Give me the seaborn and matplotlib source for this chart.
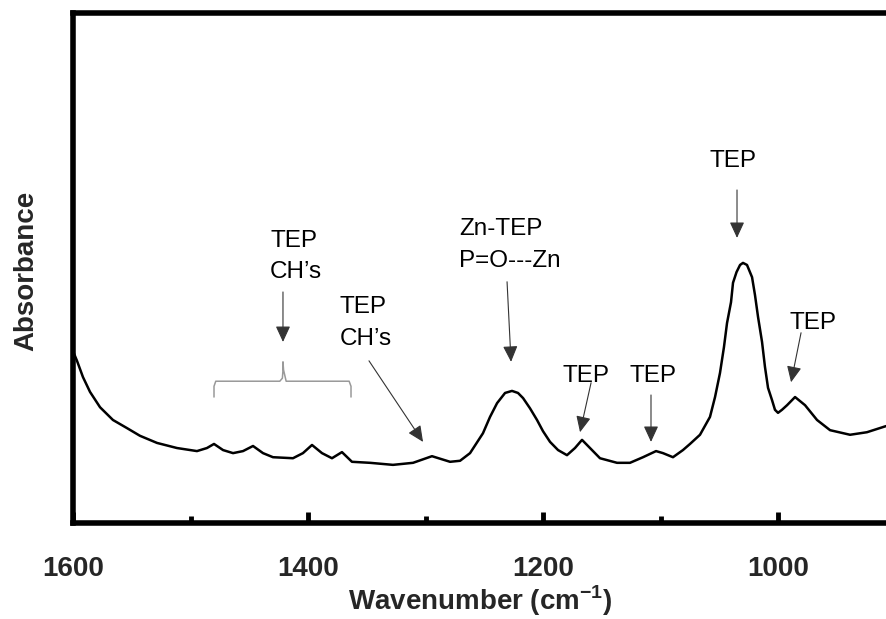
import numpy as np
import pandas as pd
import matplotlib
matplotlib.use("Agg")
import matplotlib.pyplot as plt
import seaborn as sns

# ---- data ----
wavenumber = [1600.0, 1596.6, 1591.5, 1585.5, 1577.0, 1566.0, 1554.0, 1543.0, 1528.5, 1511.5,
              1494.5, 1486.0, 1480.0, 1472.3, 1463.8, 1455.3, 1446.8, 1438.3, 1429.8, 1412.8,
              1404.3, 1396.6, 1388.1, 1379.6, 1371.1, 1362.6, 1347.2, 1327.7, 1310.6, 1294.5,
              1279.1, 1270.6, 1262.1, 1251.1, 1245.1, 1239.1, 1232.3, 1226.4, 1221.3, 1217.0,
              1211.1, 1205.1, 1200.0, 1194.0, 1187.2, 1179.6,
              1172.8, 1166.8, 1160.0, 1151.5, 1137.0, 1126.0, 1114.9, 1103.8, 1097.9, 1089.4,
              1080.9, 1074.9, 1066.4, 1057.9, 1053.6, 1049.4, 1046.0, 1043.4, 1040.0, 1038.3,
              1035.3, 1032.3, 1029.8, 1026.4, 1022.1, 1019.6, 1017.0, 1013.6, 1011.1, 1008.5,
              1005.1, 1002.6, 1000.0, 996.6, 992.3, 985.5, 977.0, 966.8, 955.7,
              938.7, 924.3, 908.1]
absorbance = [0.337, 0.318, 0.286, 0.257, 0.227, 0.202, 0.186, 0.171, 0.157, 0.147,
              0.141, 0.147, 0.155, 0.143, 0.137, 0.141, 0.151, 0.137, 0.129, 0.127,
              0.137, 0.153, 0.137, 0.127, 0.139, 0.120, 0.118, 0.114, 0.118, 0.131,
              0.120, 0.122, 0.137, 0.176, 0.208, 0.235, 0.255, 0.259, 0.255, 0.245,
              0.225, 0.202, 0.180, 0.159, 0.143, 0.133,
              0.147, 0.163, 0.147, 0.127, 0.118, 0.118, 0.129, 0.141, 0.137, 0.129,
              0.143, 0.155, 0.173, 0.208, 0.247, 0.294, 0.345, 0.392, 0.433, 0.471,
              0.492, 0.506, 0.510, 0.506, 0.482, 0.447, 0.404, 0.355, 0.306, 0.265,
              0.241, 0.222, 0.216, 0.222, 0.231, 0.247, 0.231, 0.202, 0.182,
              0.173, 0.178, 0.190]

x_ticks = [1600, 1400, 1200, 1000]
x_minor_ticks = [1500, 1300, 1100]

# annotation texts: (lines, x, baseline y of each line)
label_lines = [["TEP", "CH\u2019s"], ["TEP", "CH\u2019s"], ["Zn-TEP", "P=O---Zn"],
               ["TEP"], ["TEP"], ["TEP"], ["TEP"]]
label_x = [1432.3, 1372.8, 1271.5, 1183.8, 1126.0, 1057.9, 990.6]
label_y = [[0.541, 0.480], [0.412, 0.349], [0.565, 0.502], [0.276], [0.276], [0.698], [0.380]]
arrow_start = [(1421.3, 0.453), (1348.1, 0.318), (1230.6, 0.473), (1159.1, 0.275),
               (1108.1, 0.251), (1034.9, 0.653), (980.4, 0.373)]
arrow_end = [(1421.3, 0.355), (1302.1, 0.159), (1227.2, 0.316), (1168.5, 0.178),
             (1108.1, 0.159), (1034.9, 0.559), (988.9, 0.276)]
brace_x = [1480.0, 1480.0, 1478.5, 1424.0, 1421.8, 1421.3, 1421.3, 1420.8, 1418.6, 1365.0, 1363.4, 1363.4]
brace_y = [0.247, 0.268, 0.278, 0.278, 0.284, 0.300, 0.316, 0.300, 0.278, 0.278, 0.268, 0.247]

sns.set_style("white")
plt.rcParams["font.family"] = ["Liberation Sans", "DejaVu Sans"]
plt.rcParams["mathtext.fontset"] = "custom"
plt.rcParams["mathtext.rm"] = "Liberation Sans"
plt.rcParams["mathtext.bf"] = "Liberation Sans:bold"

fig = plt.figure(figsize=(8.86, 6.19), dpi=100)
ax = fig.add_axes([73 / 886, 1 - 523 / 619, 1 - 73 / 886, (523 - 13) / 619])

df = pd.DataFrame({"Wavenumber": wavenumber, "Absorbance": absorbance})
sns.lineplot(data=df, x="Wavenumber", y="Absorbance", sort=False, estimator=None,
             color="black", lw=1.8, ax=ax)

ax.set_xlim(1600, 908.1)
ax.set_ylim(0, 1)

for s in ["left", "top", "bottom"]:
    ax.spines[s].set_visible(True)
    ax.spines[s].set_linewidth(4)
    ax.spines[s].set_color("black")
ax.spines["right"].set_visible(False)

ax.set_xticks(x_ticks)
ax.set_xticks(x_minor_ticks, minor=True)
ax.set_xticklabels([str(t) for t in x_ticks])
ax.tick_params(axis="x", which="major", direction="in", length=8, width=3.5,
               labelsize=20, pad=24, color="black", bottom=True)
ax.tick_params(axis="x", which="minor", direction="in", length=5, width=3.5,
               color="black", bottom=True)
for lab in ax.get_xticklabels():
    lab.set_fontweight("bold")
ax.set_yticks([])

ax.set_xlabel(r"Wavenumber (cm$^{\mathbf{-1}}$)", fontsize=20, fontweight="bold")
ax.xaxis.set_label_coords(0.501, -0.118)
ax.set_ylabel("Absorbance", fontsize=20, fontweight="bold")
ax.yaxis.set_label_coords(-0.042, 0.494)

# annotations
for lines, x, ys in zip(label_lines, label_x, label_y):
    for line, y in zip(lines, ys):
        ax.text(x, y, line, fontsize=17.5, ha="left", va="baseline", color="black")

for (x0, y0), (x1, y1) in zip(arrow_start, arrow_end):
    ax.annotate("", xy=(x1, y1), xytext=(x0, y0),
                arrowprops=dict(arrowstyle="-|>,head_length=0.65,head_width=0.3",
                                color="#333333", lw=0.8, mutation_scale=15,
                                shrinkA=0, shrinkB=0))

ax.plot(brace_x, brace_y, color="#999999", lw=1.1)

fig.savefig("out.png", dpi=100)
